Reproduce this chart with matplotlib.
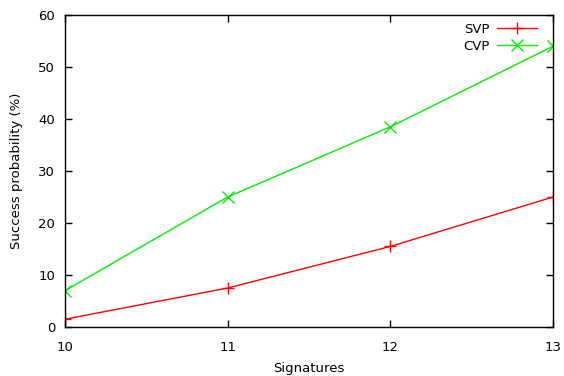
import matplotlib
matplotlib.use('Agg')
import matplotlib.pyplot as plt

signatures = [10, 11, 12, 13]
svp = [1.5, 7.5, 15.5, 25]
cvp = [7, 25, 38.5, 54]

plt.rcParams['font.family'] = 'DejaVu Sans'
plt.rcParams['font.size'] = 9.5

fig = plt.figure(figsize=(5.64, 3.76), dpi=100)
ax = fig.add_axes([0.1152, 0.1303, 0.8653, 0.8297])

ax.plot(signatures, svp, '-', color='#ff0000', marker='+', markersize=8, lw=1, label='SVP')
ax.plot(signatures, cvp, '-', color='#00ee00', marker='x', markersize=8, lw=1, label='CVP')

ax.set_xlim(10, 13)
ax.set_ylim(0, 60)
ax.set_xticks(signatures)
ax.set_yticks(range(0, 61, 10))
ax.tick_params(direction='in', top=True, right=True, length=5, width=1)
ax.tick_params(axis='x', pad=10)
ax.tick_params(axis='y', pad=7)
for s in ax.spines.values():
    s.set_linewidth(1)
ax.set_xlabel('Signatures', labelpad=6)
ax.set_ylabel('Success probability (%)', labelpad=11)

ax.legend(loc='upper right', bbox_to_anchor=(0.967, 0.975), frameon=False,
          markerfirst=False, handlelength=3, borderpad=0, borderaxespad=0,
          labelspacing=0.3, handletextpad=0.55)

fig.savefig('out.png', dpi=100)
